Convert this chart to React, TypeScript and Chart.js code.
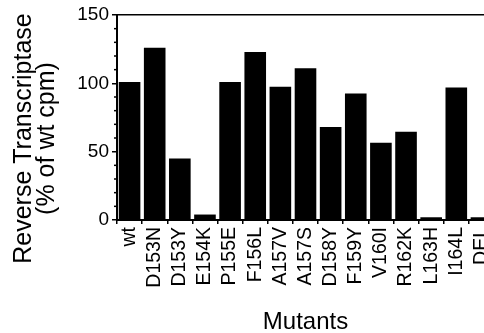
import React, { useEffect, useRef } from "react";
import { Chart, registerables } from "chart.js";

Chart.register(...registerables);

const categories = [
  "wt", "D153N", "D153Y", "E154K", "P155E", "F156L", "A157V", "A157S",
  "D158Y", "F159Y", "V160I", "R162K", "L163H", "I164L", "DEL",
];
const rtActivity = [101, 126, 45, 4, 101, 123, 97.5, 111, 68, 92.5, 56.5, 64.5, 2, 97, 2];
const yMinorTicks = [10, 20, 30, 40, 60, 70, 80, 90, 110, 120, 130, 140];
const yTitleLines = ["Reverse Transcriptase", "(% of wt cpm)"];
const xTitle = "Mutants";

const FONT = '"Liberation Sans", Arial, Helvetica, sans-serif';

const decor = {
  id: "decor",
  afterDraw(chart: any) {
    const { ctx, chartArea } = chart;
    const y = chart.scales.y;
    ctx.save();
    ctx.strokeStyle = "#000";
    ctx.lineWidth = 1.5;
    yMinorTicks.forEach((v) => {
      const py = y.getPixelForValue(v);
      ctx.beginPath();
      ctx.moveTo(y.right - 3, py);
      ctx.lineTo(y.right, py);
      ctx.stroke();
    });
    ctx.fillStyle = "#000";
    ctx.font = `25px ${FONT}`;
    ctx.textAlign = "center";
    ctx.textBaseline = "alphabetic";
    const cy = (chartArea.top + chartArea.bottom) / 2 + 21;
    const baselines = [31, 54];
    yTitleLines.forEach((t, i) => {
      ctx.save();
      ctx.translate(baselines[i], cy);
      ctx.rotate(-Math.PI / 2);
      ctx.fillText(t, 0, 0);
      ctx.restore();
    });
    ctx.restore();
  },
};

export default function App() {
  const ref = useRef<HTMLCanvasElement>(null);
  useEffect(() => {
    if (!ref.current) return;
    const chart = new Chart(ref.current, {
      type: "bar",
      data: {
        labels: categories,
        datasets: [
          {
            data: rtActivity,
            backgroundColor: "#000",
            borderWidth: 0,
            barPercentage: 0.86,
            categoryPercentage: 1.0,
            xAxisID: "x",
            yAxisID: "y",
          },
        ],
      },
      options: {
        animation: false,
        responsive: false,
        maintainAspectRatio: false,
        devicePixelRatio: 1,
        layout: { padding: { left: 0, right: 6, top: 15, bottom: 0 } },
        plugins: { legend: { display: false }, tooltip: { enabled: false } },
        scales: {
          x: {
            type: "category",
            position: "bottom",
            grid: { display: true, drawOnChartArea: false, offset: true, tickLength: 4, color: "#000", lineWidth: 1.5 },
            border: { display: true, color: "#000", width: 2 },
            ticks: {
              autoSkip: false,
              minRotation: 90,
              maxRotation: 90,
              padding: 3,
              color: "#000",
              font: { family: FONT, size: 19.5 },
            },
            title: {
              display: true,
              text: xTitle,
              color: "#000",
              padding: 0,
              font: { family: FONT, size: 24, lineHeight: 0.85 },
            },
            afterFit: (s: any) => {
              s.height = 113;
              s.paddingLeft = 0;
              s.paddingRight = 0;
            },
          },
          x2: {
            type: "category",
            position: "top",
            display: true,
            grid: { display: false },
            border: { display: true, color: "#000", width: 1.5 },
            ticks: { display: false },
            afterFit: (s: any) => {
              s.height = 0;
              s.paddingLeft = 0;
              s.paddingRight = 0;
            },
          },
          y: {
            type: "linear",
            position: "left",
            min: 0,
            max: 150,
            ticks: { stepSize: 50, padding: 3, color: "#000", font: { family: FONT, size: 19 } },
            grid: { display: true, drawOnChartArea: false, tickLength: 5, color: "#000", lineWidth: 1.5 },
            border: { display: true, color: "#000", width: 2 },
            afterFit: (s: any) => { s.width = 117; },
          },
        },
      },
      plugins: [decor],
    });
    return () => chart.destroy();
  }, []);

  return (
    <div style={{ position: "fixed", left: 0, top: 0, width: 484, height: 333, overflow: "hidden", background: "#fff" }}>
      <canvas ref={ref} width={500} height={333} style={{ display: "block", width: 500, height: 333 }} />
    </div>
  );
}
